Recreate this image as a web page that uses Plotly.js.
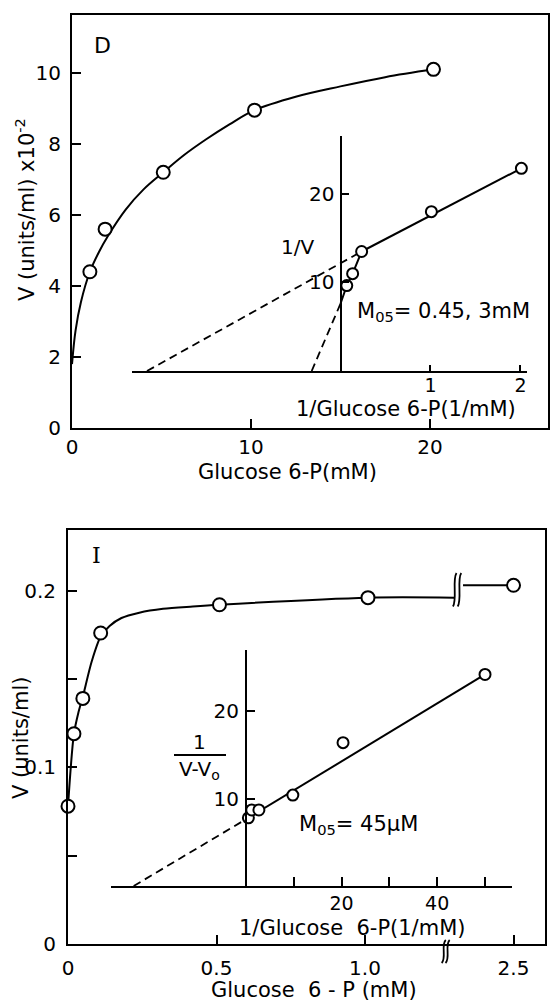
<!DOCTYPE html>
<html><head><meta charset="utf-8">
<script src="https://cdn.plot.ly/plotly-3.0.1.min.js"></script>
<style>html,body{margin:0;padding:0;background:#fff}#chart{width:553px;height:1003px}</style>
</head><body><div id="chart"></div>
<script>
// ---------- Panel D (top) ----------
const dMainX = [1.0, 1.85, 5.1, 10.2, 20.2];
const dMainY = [4.4, 5.6, 7.2, 8.95, 10.1];
const dCurveX = [0, 0.2, 0.5, 1.0, 1.5, 2.0, 3.0, 4.0, 5.1, 6.3, 7.5, 8.8, 10.2, 12.5, 15.0, 17.5, 20.2];
const dCurveY = [1.8, 2.75, 3.55, 4.4, 4.95, 5.4, 6.15, 6.72, 7.2, 7.7, 8.13, 8.55, 8.95, 9.33, 9.62, 9.88, 10.1];
const dMainXTicks = [0, 10, 20];
const dMainYTicks = [0, 2, 4, 6, 8, 10];
// inset (double-reciprocal plot)
const dInvX = [0.07, 0.135, 0.235, 1.01, 2.01];
const dInvY = [9.65, 11.0, 13.5, 18.0, 22.9];
const dLowSegX = [0.0, 0.07, 0.135, 0.235];
const dLowSegY = [7.6, 9.65, 11.0, 13.5];
const dHighFitX = [0.235, 2.01];
const dHighFitY = [13.5, 22.9];
const dDashHighX = [-2.15, 0.235];
const dDashHighY = [0, 13.5];
const dDashLowX = [-0.32, 0.0];
const dDashLowY = [0, 7.6];
const dInvXTicks = [1, 2];
const dInvYTicks = [10, 20];

// ---------- Panel I (bottom) ----------
const iMainX = [0, 0.02, 0.05, 0.11, 0.51, 1.01, 2.5];
const iMainY = [0.078, 0.119, 0.139, 0.176, 0.192, 0.196, 0.203];
const iCurveX = [0, 0.02, 0.035, 0.05, 0.08, 0.11, 0.14, 0.18, 0.24, 0.32, 0.42, 0.51, 1.01, 1.3];
const iCurveY = [0.078, 0.119, 0.131, 0.140, 0.160, 0.174, 0.180, 0.1845, 0.1875, 0.1897, 0.191, 0.192, 0.196, 0.196];
const iTailX = [2.33, 2.5];
const iTailY = [0.203, 0.203];
const iMainXTicks = [0, 0.5, 1.0, 2.5];
const iMainXTickText = ["0", "0.5", "1.0", "2.5"];
const iMainYTicks = [0, 0.1, 0.2];
const iMainYTickText = ["0", "0.1", "0.2"];
const iMainYMinor = [0.05, 0.15];
// inset
const iInvX = [0.5, 1.2, 2.7, 9.8, 20.3, 50];
const iInvY = [7.8, 8.7, 8.7, 10.4, 16.4, 24.2];
const iFitX = [0.5, 50];
const iFitY = [7.8, 24.2];
const iDashX = [-23.5, 0.5];
const iDashY = [0, 7.8];
const iInvXTicks = [20, 40];
const iInvXMinor = [10, 30, 50];
const iInvYTicks = [10, 20];

// broken x axis (values beyond the break are shifted left)
const BREAK_LO = 1.3, AXIS_SHIFT = 1.0;
const disp = x => x <= BREAK_LO ? x : x - AXIS_SHIFT;

const W = 553, H = 1003;
const px = v => v / W, py = v => 1 - v / H;
const FONT = 'DejaVu Sans';
const tf = {family: FONT, size: 20, color: '#000'};
const tfSmall = {family: FONT, size: 19, color: '#000'};

function lineTr(x, y, xa, ya, opts = {}) {
  return {type: 'scatter', mode: 'lines', x, y, xaxis: xa, yaxis: ya,
    line: Object.assign({color: '#000', width: 2}, opts.line || {}), hoverinfo: 'skip', cliponaxis: false};
}
function ptsTr(x, y, xa, ya, size) {
  return {type: 'scatter', mode: 'markers', x, y, xaxis: xa, yaxis: ya, cliponaxis: false,
    marker: {symbol: 'circle', size: size, color: '#fff', line: {color: '#000', width: 2}}, hoverinfo: 'skip'};
}
const DASH = {dash: '8px,5px', width: 1.8};

const traces = [
  lineTr(dCurveX, dCurveY, 'x', 'y', {line: {shape: 'spline', smoothing: 1}}),
  ptsTr(dMainX, dMainY, 'x', 'y', 13),
  lineTr(dDashHighX, dDashHighY, 'x2', 'y2', {line: DASH}),
  lineTr(dDashLowX, dDashLowY, 'x2', 'y2', {line: DASH}),
  lineTr(dLowSegX, dLowSegY, 'x2', 'y2'),
  lineTr(dHighFitX, dHighFitY, 'x2', 'y2'),
  ptsTr(dInvX, dInvY, 'x2', 'y2', 11),

  lineTr(iCurveX.map(disp), iCurveY, 'x3', 'y3', {line: {shape: 'spline', smoothing: 0.8}}),
  lineTr(iTailX.map(disp), iTailY, 'x3', 'y3'),
  ptsTr(iMainX.map(disp), iMainY, 'x3', 'y3', 13),
  lineTr(iDashX, iDashY, 'x4', 'y4', {line: DASH}),
  lineTr(iFitX, iFitY, 'x4', 'y4'),
  ptsTr(iInvX, iInvY, 'x4', 'y4', 11),
];

const axBase = {showgrid: false, zeroline: false, showline: true, linecolor: '#000', linewidth: 2,
  ticks: 'inside', tickcolor: '#000', tickwidth: 2, tickfont: tf, fixedrange: true, tickmode: 'array'};

const layout = {
  width: W, height: H, margin: {l: 0, r: 0, t: 0, b: 0}, showlegend: false,
  paper_bgcolor: '#fff', plot_bgcolor: 'rgba(0,0,0,0)', font: {family: FONT, color: '#000'},
  xaxis: Object.assign({}, axBase, {domain: [px(72), px(548)], range: [0, 26.6], anchor: 'y', mirror: true,
    ticklen: 9, tickvals: dMainXTicks, ticklabelstandoff: 0}),
  yaxis: Object.assign({}, axBase, {domain: [py(428), py(15)], range: [0, 11.63], anchor: 'x', mirror: true,
    ticklen: 9, tickvals: dMainYTicks, ticklabelstandoff: 5}),
  xaxis2: Object.assign({}, axBase, {domain: [px(132.3), px(526.7)], range: [-2.313, 2.069], anchor: 'y2',
    ticklen: 6, tickvals: dInvXTicks, ticklabelstandoff: -4, tickfont: tfSmall}),
  yaxis2: Object.assign({}, axBase, {domain: [py(371), py(136)], range: [0, 26.55], anchor: 'free',
    position: px(340.5), ticklen: 7, tickvals: dInvYTicks, ticklabelstandoff: 1}),
  xaxis3: Object.assign({}, axBase, {domain: [px(68), px(545)], range: [0, 1.606], anchor: 'y3', mirror: true,
    ticklen: 9, tickvals: iMainXTicks.map(disp), ticktext: iMainXTickText, ticklabelstandoff: 5}),
  yaxis3: Object.assign({}, axBase, {domain: [py(944), py(530)], range: [0, 0.2343], anchor: 'x3', mirror: true,
    ticklen: 9, tickvals: iMainYTicks, ticktext: iMainYTickText, ticklabelstandoff: 6,
    minor: {tickmode: 'array', tickvals: iMainYMinor, ticks: 'inside', ticklen: 9, tickwidth: 2, tickcolor: '#000'}}),
  xaxis4: Object.assign({}, axBase, {domain: [px(111), px(511.5)], range: [-28.24, 55.54], anchor: 'y4',
    ticklen: 9, tickvals: iInvXTicks, ticklabelstandoff: -1, tickfont: tfSmall,
    minor: {tickmode: 'array', tickvals: iInvXMinor, ticks: 'inside', ticklen: 9, tickwidth: 2, tickcolor: '#000'}}),
  yaxis4: Object.assign({}, axBase, {domain: [py(886), py(650)], range: [0, 27.0], anchor: 'free',
    position: px(246), ticklen: 8, tickvals: iInvYTicks, ticklabelstandoff: 2}),
  shapes: [
    {type: 'line', xref: 'paper', yref: 'paper', x0: px(174), x1: px(226), y0: py(755), y1: py(755),
     line: {color: '#000', width: 2}}
  ],
  annotations: []
};

// axis-break marks (two thin S-strokes) on the curve and on the x axis
function breakMark(xc, yref, yb, yt, dx) {
  return {type: 'path', xref: 'x3', yref: yref, layer: 'above', line: {color: '#000', width: 1.8},
    path: `M ${xc - dx},${yb} C ${xc + dx * 1.5},${yb + (yt - yb) * 0.2} ${xc - dx * 1.5},${yb + (yt - yb) * 0.8} ${xc + dx},${yt}`};
}
const bx = disp(BREAK_LO);
layout.shapes.push(breakMark(bx + 0.002, 'y3', 0.191, 0.210, 0.006));
layout.shapes.push(breakMark(bx + 0.018, 'y3', 0.191, 0.210, 0.006));
layout.shapes.push(breakMark(bx - 0.035, 'paper', py(963), py(940), 0.007));
layout.shapes.push(breakMark(bx - 0.022, 'paper', py(963), py(940), 0.007));

function ann(text, x, y, opts = {}) {
  layout.annotations.push(Object.assign({text, x: px(x), y: py(y), xref: 'paper', yref: 'paper',
    showarrow: false, xanchor: 'center', yanchor: 'middle', font: {family: FONT, size: 20, color: '#000'}}, opts));
}
const f21 = {family: FONT, size: 21, color: '#000'};
// Panel D texts
ann('D', 102, 45, {font: {family: FONT, size: 22, color: '#000'}});
ann('Glucose 6-P(mM)', 287, 472, {font: f21});
ann('V (units/ml) x10<sup>-2</sup>', 25, 210, {textangle: -90, font: f21});
ann('1/V', 297, 247);
ann('M<sub>05</sub>= 0.45, 3mM', 443, 312, {font: f21});
ann('1/Glucose 6-P(1/mM)', 406, 409, {font: f21});
// Panel I texts
ann('I', 97, 555, {font: {family: 'DejaVu Serif', size: 22, color: '#000'}});
ann('V (units/ml)', 21, 738, {textangle: -90, font: f21});
ann('Glucose  6 - P (mM)', 314, 990, {font: f21});
ann('1/Glucose  6-P(1/mM)', 352, 928, {font: f21});
ann('1', 199, 742);
ann('V-V<sub>o</sub>', 199, 770);
ann('M<sub>05</sub>= 45μM', 358, 825, {font: f21});

Plotly.newPlot('chart', traces, layout, {staticPlot: true, displayModeBar: false});
</script></body></html>
